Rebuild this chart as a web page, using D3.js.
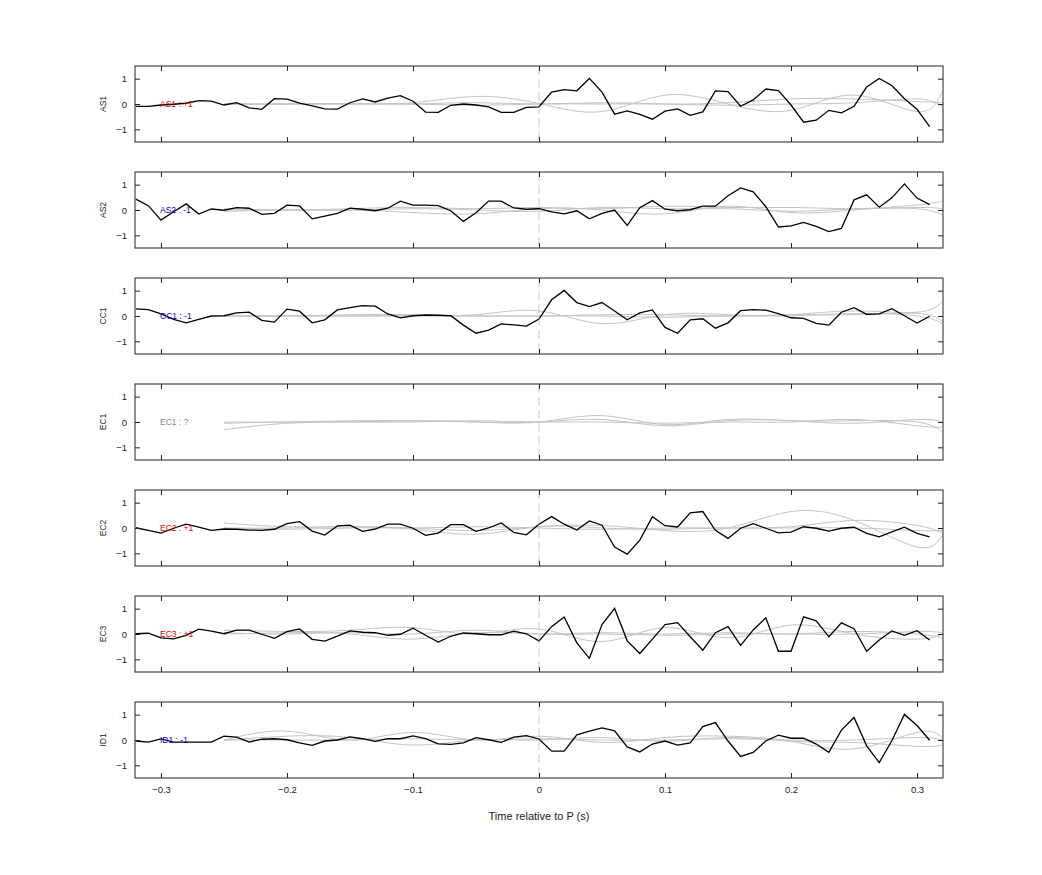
<!DOCTYPE html>
<html>
<head>
<meta charset="utf-8">
<script src="https://cdn.jsdelivr.net/npm/d3@7"></script>
<style>
  body { margin: 0; background: #fff; font-family: "Liberation Sans", Arial, sans-serif; }
  .tick text { font-size: 9.5px; fill: #222; }
</style>
</head>
<body>
<div id="chart"></div>
<script>
// channel names and polarity labels
const channels = ["AS1", "AS2", "CC1", "EC1", "EC2", "EC3", "ID1"];
const polarity = ["+1", "-1", "-1", "?", "+1", "+1", "-1"];
const polColor = { "+1": "#d40000", "-1": "#0000c8", "?": "#888" };

// black trace sample times: -0.32 .. 0.31 step 0.01
const traceTimes = d3.range(64).map(i => +(-0.32 + i * 0.01).toFixed(2));

const AS1 = [-0.09,-0.09,-0.04,-0.01,0.03,0.13,0.11,-0.04,0.05,-0.15,-0.21,0.21,0.19,0.03,-0.07,-0.19,-0.2,0.05,0.2,0.08,0.23,0.33,0.11,-0.32,-0.33,-0.05,0,-0.04,-0.11,-0.33,-0.33,-0.13,
  -0.11,0.47,0.57,0.52,1.01,0.47,-0.4,-0.27,-0.41,-0.6,-0.28,-0.19,-0.45,-0.31,0.52,0.49,-0.09,0.16,0.59,0.53,-0.04,-0.72,-0.64,-0.25,-0.35,-0.09,0.67,1.01,0.73,0.21,-0.21,-0.89];
const AS2 = [0.43,0.17,-0.4,-0.07,0.24,-0.16,0.04,-0.01,0.09,0.07,-0.17,-0.13,0.19,0.16,-0.35,-0.24,-0.13,0.07,0.03,-0.03,0.07,0.35,0.19,0.19,0.17,-0.03,-0.45,-0.11,0.35,0.35,0.08,0.03,
  0.05,-0.07,-0.15,-0.03,-0.35,-0.13,0,-0.61,0.09,0.37,0.03,-0.03,0.01,0.15,0.15,0.56,0.87,0.72,0.13,-0.67,-0.63,-0.49,-0.65,-0.85,-0.73,0.4,0.6,0.11,0.48,1.03,0.47,0.21];
const CC1 = [0.28,0.25,0.08,-0.13,-0.27,-0.13,0,0.01,0.12,0.15,-0.17,-0.24,0.27,0.19,-0.27,-0.15,0.24,0.33,0.41,0.39,0.08,-0.07,0.01,0.04,0.03,0.01,-0.36,-0.68,-0.56,-0.31,-0.35,-0.4,
  -0.12,0.64,1.01,0.53,0.37,0.53,0.2,-0.15,0.12,0.24,-0.45,-0.68,-0.15,-0.11,-0.48,-0.27,0.21,0.25,0.23,0.09,-0.07,-0.09,-0.29,-0.36,0.15,0.33,0.07,0.08,0.29,0.01,-0.28,-0.01];
const EC1 = null;
const EC2 = [0.01,-0.09,-0.2,-0.01,0.15,0.03,-0.09,-0.04,-0.05,-0.08,-0.09,-0.05,0.17,0.25,-0.12,-0.28,0.08,0.11,-0.13,-0.04,0.15,0.15,-0.01,-0.29,-0.2,0.13,0.13,-0.13,0,0.2,-0.17,-0.27,
  0.15,0.45,0.15,-0.08,0.28,0.11,-0.75,-1.03,-0.48,0.45,0.09,0.04,0.6,0.65,-0.09,-0.41,-0.01,0.17,-0.01,-0.19,-0.16,0.05,-0.01,-0.12,-0.01,0.03,-0.21,-0.35,-0.15,0.03,-0.21,-0.35];
const EC3 = [0.01,0.03,-0.15,-0.19,-0.05,0.19,0.11,0.01,0.15,0.15,-0.01,-0.17,0.09,0.2,-0.21,-0.28,-0.08,0.12,0.07,0.05,-0.05,-0.01,0.23,-0.05,-0.32,-0.09,0.04,0.01,-0.03,-0.03,0.11,0.01,
  -0.27,0.29,0.67,-0.35,-0.96,0.37,1.01,-0.27,-0.77,-0.2,0.37,0.45,-0.11,-0.64,0.05,0.29,-0.45,0.16,0.64,-0.68,-0.68,0.68,0.52,-0.11,0.44,0.21,-0.68,-0.24,0.12,-0.05,0.13,-0.24];
const ID1 = [-0.04,-0.08,0.04,-0.08,-0.08,-0.08,-0.08,0.15,0.11,-0.08,0.03,0.05,0.01,-0.11,-0.21,-0.04,0,0.12,0.05,-0.05,0.05,0.05,0.16,0.05,-0.15,-0.17,-0.11,0.09,0.01,-0.09,0.11,0.17,
  0.04,-0.44,-0.44,0.2,0.35,0.48,0.36,-0.27,-0.47,-0.16,-0.04,-0.2,-0.11,0.53,0.69,-0.04,-0.65,-0.49,-0.04,0.19,0.07,0.07,-0.16,-0.49,0.39,0.89,-0.23,-0.89,-0.03,1.01,0.57,-0.01];
const traces = [AS1, AS2, CC1, EC1, EC2, EC3, ID1];

// grey template curves, knots every 0.05 s from -0.25, plus 0.32
const greyTimes = [-0.25,-0.2,-0.15,-0.1,-0.05,0,0.05,0.1,0.15,0.2,0.25,0.3,0.32];
const greyAS1 = [
  [0,0,0.02,0.05,0.3,0.02,-0.3,0.35,0.0,-0.25,0.35,-0.3,0.5],
  [0,0,0,0,0.05,0,0.05,0,0.05,0.2,0.2,0.1,0.05],
  [0,0,0,0,-0.05,0,0,0,-0.05,0,0.05,0.2,-0.1]
];
const greyAS2 = [
  [-0.05,0,0,-0.1,-0.15,0.05,0,-0.15,0.15,-0.1,0,0.2,0.35],
  [0,0,0,0.05,0,-0.05,0.1,0.05,0.05,-0.05,0.05,0.05,-0.2],
  [0.05,0,0.05,0.1,0.05,0.1,0.05,0.15,0.1,0.1,0.05,0.1,0.05]
];
const greyCC1 = [
  [0,0,0.05,0.05,0.05,0.2,-0.3,0.05,0.05,0.05,0.2,0.15,0.55],
  [0,0,0,0,0,0,0.05,0.05,0,0.05,0.05,0.1,-0.2],
  [0,0.02,0,0.02,0,0,0,-0.05,0,0,0.1,0,-0.3]
];
const greyEC1 = [
  [-0.3,-0.05,0,0.05,0,0,0.25,-0.1,0.1,0.05,0.05,0,-0.4],
  [0,0,0.05,0.05,0,0,0.1,-0.15,0.05,0.05,-0.05,0.1,0],
  [-0.05,0,0,0,0.05,0,0,-0.05,0,0,0.1,-0.15,-0.2]
];
const greyEC2 = [
  [0.2,0.05,0.05,0,-0.1,0.05,0.1,-0.1,0,0.65,0.3,-0.75,-0.3],
  [0,-0.05,0,-0.05,-0.25,0.05,0,-0.05,0,0.05,0.3,0.1,-0.2],
  [0,0,0.05,0,0.05,0,-0.05,0,0,0,0,-0.1,-0.1]
];
const greyEC3 = [
  [0.15,0.1,0.15,0.25,0,0.2,-0.3,0.25,-0.15,0.35,0,-0.2,0],
  [0,0.05,0,-0.2,0.05,0,0.05,0,0.05,0,0.1,0,-0.15],
  [0.05,0,0.05,0,0.15,0,0,-0.05,0,0,0,0.1,0.05]
];
const greyID1 = [
  [0,0.35,0,0.3,0,0.15,-0.1,0.1,0.15,-0.05,-0.35,0.3,0.1],
  [0,0.15,0.1,-0.2,0,0,0.1,-0.05,0.1,-0.05,-0.1,-0.25,-0.2],
  [0,0,0,0.05,0,0.05,0,0,0.05,0,0,0.1,0]
];
const greys = [greyAS1, greyAS2, greyCC1, greyEC1, greyEC2, greyEC3, greyID1];

const yTicks = [-1, 0, 1];
const xTicks = [-0.3, -0.2, -0.1, 0, 0.1, 0.2, 0.3];

const width = 1042, height = 875;
const left = 135, right = 943;
const panelTops = [66, 172, 278, 384, 490, 596, 702];
const panelH = 76;

const svg = d3.select("#chart").append("svg")
  .attr("width", width).attr("height", height);

const x = d3.scaleLinear().domain([-0.3206, 0.3206]).range([left, right]);

channels.forEach((ch, i) => {
  const top = panelTops[i];
  const y = d3.scaleLinear().domain([-1.5, 1.5]).range([top + panelH, top]);
  const g = svg.append("g");

  const clipId = "clip" + i;
  g.append("clipPath").attr("id", clipId).append("rect")
    .attr("x", left).attr("y", top).attr("width", right - left).attr("height", panelH);
  const plot = g.append("g").attr("clip-path", `url(#${clipId})`);

  // grey templates
  const greyLine = d3.line().x((d, k) => x(greyTimes[k])).y(d => y(d)).curve(d3.curveNatural);
  greys[i].forEach(s => {
    plot.append("path").attr("d", greyLine(s))
      .attr("fill", "none").attr("stroke", "#c4c4c4").attr("stroke-width", 1);
  });

  // P marker
  g.append("line").attr("x1", x(0)).attr("x2", x(0))
    .attr("y1", top).attr("y2", top + panelH)
    .attr("stroke", "#c99").attr("stroke-width", 0.6).attr("stroke-dasharray", "9,4");

  // trace
  if (traces[i]) {
    const line = d3.line().x((d, k) => x(traceTimes[k])).y(d => y(d));
    plot.append("path").attr("d", line(traces[i]))
      .attr("fill", "none").attr("stroke", "#000").attr("stroke-width", 1.3);
  }

  // axes (ticks inward)
  g.append("g").attr("transform", `translate(${left},0)`)
    .call(d3.axisLeft(y).tickValues(yTicks).tickSize(-5).tickPadding(8).tickFormat(d3.format("d")))
    .call(a => a.select(".domain").remove());
  g.append("g").attr("transform", `translate(${right},0)`)
    .call(d3.axisRight(y).tickValues(yTicks).tickSize(-5).tickFormat(""))
    .call(a => a.select(".domain").remove());
  g.append("g").attr("transform", `translate(0,${top + panelH})`)
    .call(d3.axisBottom(x).tickValues(xTicks).tickSize(-5).tickPadding(8)
      .tickFormat(i === channels.length - 1 ? d => d3.format("")(d) : ""))
    .call(a => a.select(".domain").remove());
  g.append("g").attr("transform", `translate(0,${top})`)
    .call(d3.axisTop(x).tickValues(xTicks).tickSize(-5).tickFormat(""))
    .call(a => a.select(".domain").remove());
  g.selectAll(".tick line").attr("stroke", "#222");

  g.append("rect").attr("x", left).attr("y", top).attr("width", right - left).attr("height", panelH)
    .attr("fill", "none").attr("stroke", "#222").attr("stroke-width", 1);

  // labels
  g.append("text").attr("transform", `translate(106,${y(0)}) rotate(-90)`)
    .attr("text-anchor", "middle").attr("font-size", 8.5).attr("fill", "#222").text(ch);
  g.append("text").attr("x", 160).attr("y", y(0) + 3)
    .attr("font-size", 8.5).attr("fill", polColor[polarity[i]])
    .text(`${ch} : ${polarity[i]}`);
});

svg.append("text").attr("x", (left + right) / 2).attr("y", 820)
  .attr("text-anchor", "middle").attr("font-size", 11).attr("fill", "#222")
  .text("Time relative to P (s)");
</script>
</body>
</html>
